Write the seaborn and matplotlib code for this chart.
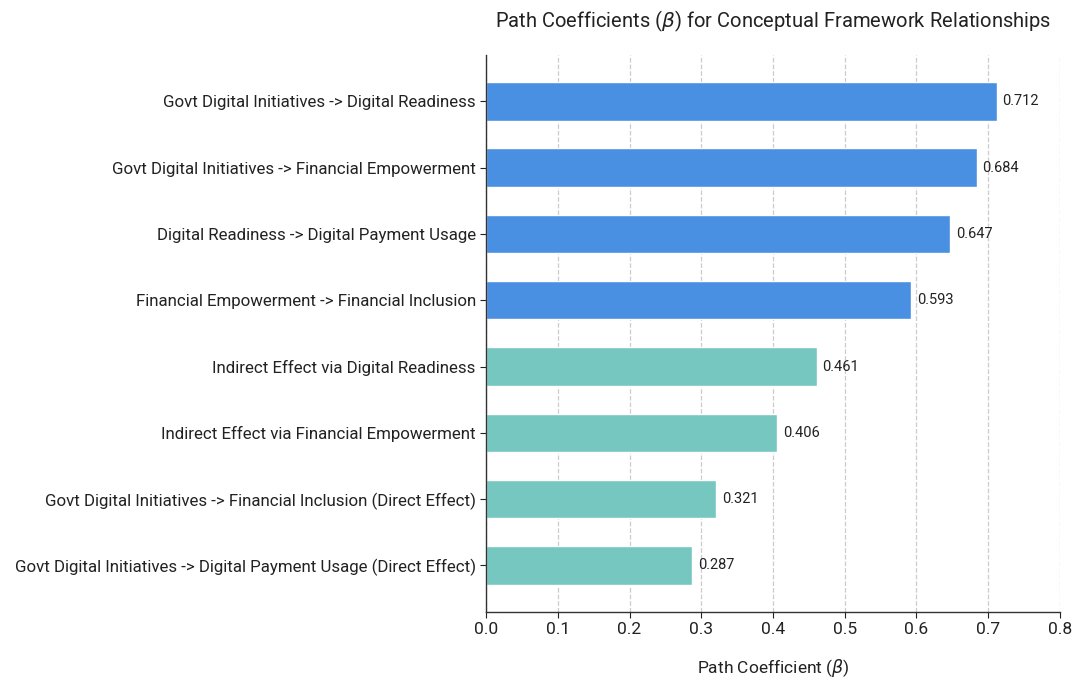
import matplotlib
matplotlib.use("Agg")
import matplotlib.pyplot as plt
import seaborn as sns
import pandas as pd

paths = [
    "Govt Digital Initiatives -> Digital Readiness",
    "Govt Digital Initiatives -> Financial Empowerment",
    "Digital Readiness -> Digital Payment Usage",
    "Financial Empowerment -> Financial Inclusion",
    "Indirect Effect via Digital Readiness",
    "Indirect Effect via Financial Empowerment",
    "Govt Digital Initiatives -> Financial Inclusion (Direct Effect)",
    "Govt Digital Initiatives -> Digital Payment Usage (Direct Effect)",
]
coefs = [0.712, 0.684, 0.647, 0.593, 0.461, 0.406, 0.321, 0.287]
kinds = ["Direct", "Direct", "Direct", "Direct", "Indirect", "Indirect", "Indirect", "Indirect"]

df = pd.DataFrame({"path": paths, "beta": coefs, "kind": kinds})

sns.set_style("white")
plt.rcParams["font.family"] = ["Roboto", "DejaVu Sans"]

fig = plt.figure(figsize=(10.78, 6.86), dpi=100)
ax = fig.add_axes([0.451, 0.108, 0.532, 0.812])

sns.barplot(data=df, y="path", x="beta", hue="kind",
            palette={"Direct": "#4a90e2", "Indirect": "#76c7c0"},
            saturation=1, dodge=False, width=0.58, legend=False, ax=ax)

for i, v in enumerate(coefs):
    ax.text(v + 0.008, i, f"{v:.3f}", va="center", ha="left", fontsize=10.5, color="#222222")

ax.set_xlim(0, 0.8)
ax.set_ylim(7.7, -0.7)
ax.set_xticks([0.0, 0.1, 0.2, 0.3, 0.4, 0.5, 0.6, 0.7, 0.8])
ax.xaxis.grid(True, linestyle="--", color="#cccccc", linewidth=0.9)
ax.set_axisbelow(True)
ax.set_ylabel("")
ax.set_xlabel(r"Path Coefficient ($\beta$)", fontsize=12.5, labelpad=14, color="#222222")
ax.set_title(r"Path Coefficients ($\beta$) for Conceptual Framework Relationships",
             fontsize=14.5, pad=20, color="#222222")
ax.tick_params(axis="x", labelsize=12.5, colors="#222222", length=4, bottom=True)
ax.tick_params(axis="y", labelsize=12.2, colors="#222222", length=4, left=True)
sns.despine(ax=ax)
for s in ["left", "bottom"]:
    ax.spines[s].set_color("#333333")
    ax.spines[s].set_linewidth(1.0)

fig.savefig("out.png", dpi=100)
